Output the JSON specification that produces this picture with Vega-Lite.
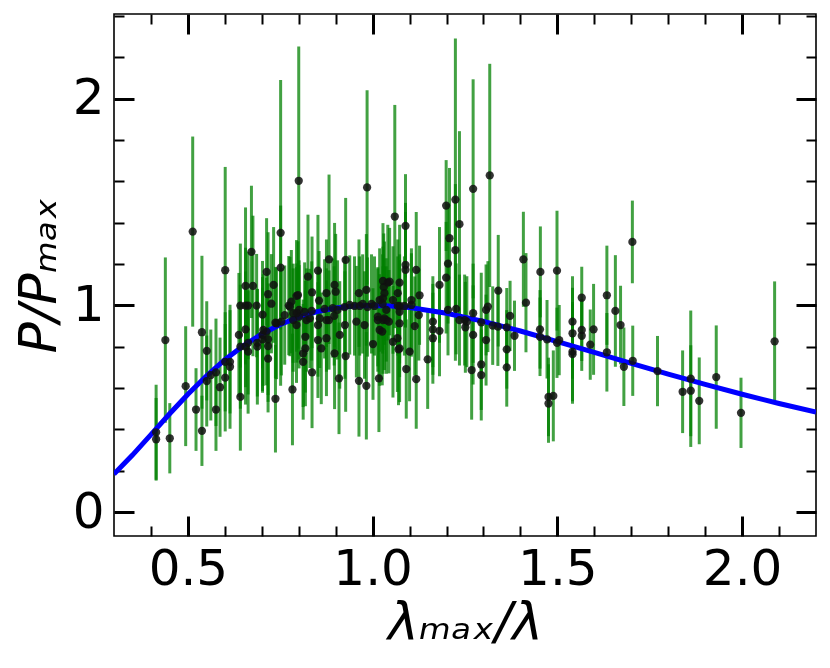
{
  "$schema": "https://vega.github.io/schema/vega-lite/v6.json",
  "width": 702,
  "height": 522,
  "autosize": {"type": "none"},
  "padding": {"left": 114, "top": 14, "right": 14, "bottom": 132},
  "background": "white",
  "config": {"view": {"stroke": "black", "strokeWidth": 1.6}},
  "datasets": {
    "obs": [
{"x":0.414,"y":0.386,"e":0.23},{"x":0.414,"y":0.352,"e":0.2},{"x":0.439,"y":0.832,"e":0.4},{"x":0.451,"y":0.357,"e":0.17},{"x":0.494,"y":0.609,"e":0.29},{"x":0.513,"y":1.357,"e":0.46},{"x":0.522,"y":0.496,"e":0.2},{"x":0.538,"y":0.87,"e":0.37},{"x":0.538,"y":0.393,"e":0.17},{"x":0.551,"y":0.78,"e":0.24},{"x":0.551,"y":0.634,"e":0.22},{"x":0.562,"y":0.663,"e":0.22},{"x":0.576,"y":0.676,"e":0.26},{"x":0.576,"y":0.496,"e":0.2},{"x":0.587,"y":0.604,"e":0.24},{"x":0.601,"y":1.17,"e":0.5},{"x":0.601,"y":0.65,"e":0.26},{"x":0.601,"y":0.727,"e":0.24},{"x":0.614,"y":0.727,"e":0.25},{"x":0.614,"y":0.703,"e":0.3},{"x":0.642,"y":0.557,"e":0.26},{"x":0.638,"y":0.857,"e":0.3},{"x":0.642,"y":0.999,"e":0.3},{"x":0.656,"y":1.094,"e":0.38},{"x":0.676,"y":1.094,"e":0.34},{"x":0.672,"y":1.259,"e":0.32},{"x":0.656,"y":0.999,"e":0.28},{"x":0.663,"y":0.999,"e":0.26},{"x":0.686,"y":0.999,"e":0.25},{"x":0.656,"y":0.884,"e":0.28},{"x":0.642,"y":0.8,"e":0.3},{"x":0.656,"y":0.8,"e":0.28},{"x":0.663,"y":0.819,"e":0.25},{"x":0.663,"y":0.776,"e":0.3},{"x":0.688,"y":0.819,"e":0.26},{"x":0.688,"y":0.8,"e":0.28},{"x":0.702,"y":0.955,"e":0.26},{"x":0.702,"y":0.857,"e":0.28},{"x":0.702,"y":0.836,"e":0.25},{"x":0.713,"y":1.162,"e":0.26},{"x":0.717,"y":1.054,"e":0.3},{"x":0.726,"y":1.008,"e":0.24},{"x":0.732,"y":1.099,"e":0.28},{"x":0.717,"y":0.803,"e":0.27},{"x":0.717,"y":0.742,"e":0.26},{"x":0.737,"y":0.548,"e":0.26},{"x":0.751,"y":1.183,"e":0.3},{"x":0.751,"y":1.351,"e":0.74},{"x":0.737,"y":0.916,"e":0.27},{"x":0.762,"y":0.953,"e":0.24},{"x":0.773,"y":0.999,"e":0.24},{"x":0.78,"y":1.018,"e":0.25},{"x":0.783,"y":0.593,"e":0.27},{"x":0.794,"y":1.046,"e":0.27},{"x":0.798,"y":1.05,"e":0.26},{"x":0.801,"y":0.978,"e":0.24},{"x":0.801,"y":0.945,"e":0.25},{"x":0.785,"y":0.962,"e":0.24},{"x":0.785,"y":0.929,"e":0.25},{"x":0.794,"y":0.905,"e":0.28},{"x":0.818,"y":0.848,"e":0.27},{"x":0.818,"y":0.792,"e":0.28},{"x":0.812,"y":0.768,"e":0.26},{"x":0.812,"y":0.727,"e":0.28},{"x":0.825,"y":1.139,"e":0.3},{"x":0.836,"y":1.063,"e":0.27},{"x":0.836,"y":0.676,"e":0.27},{"x":0.852,"y":1.168,"e":0.27},{"x":0.855,"y":1.023,"e":0.24},{"x":0.852,"y":0.905,"e":0.25},{"x":0.852,"y":0.832,"e":0.28},{"x":0.861,"y":0.792,"e":0.27},{"x":0.875,"y":1.059,"e":0.26},{"x":0.875,"y":0.841,"e":0.28},{"x":0.882,"y":1.223,"e":0.41},{"x":0.882,"y":0.929,"e":0.24},{"x":0.897,"y":1.099,"e":0.3},{"x":0.9,"y":1.066,"e":0.28},{"x":0.897,"y":0.768,"e":0.27},{"x":0.911,"y":0.857,"e":0.26},{"x":0.909,"y":0.647,"e":0.27},{"x":0.927,"y":1.22,"e":0.3},{"x":0.927,"y":0.755,"e":0.27},{"x":0.925,"y":0.905,"e":0.26},{"x":0.963,"y":1.059,"e":0.26},{"x":0.956,"y":0.921,"e":0.27},{"x":0.963,"y":0.635,"e":0.27},{"x":0.978,"y":0.905,"e":0.26},{"x":0.983,"y":1.075,"e":0.27},{"x":0.983,"y":0.611,"e":0.26},{"x":1.001,"y":0.813,"e":0.27},{"x":1.017,"y":0.647,"e":0.26},{"x":1.028,"y":1.118,"e":0.28},{"x":1.041,"y":1.11,"e":0.28},{"x":1.03,"y":1.088,"e":0.26},{"x":1.032,"y":1.059,"e":0.25},{"x":1.028,"y":1.034,"e":0.25},{"x":1.014,"y":0.945,"e":0.24},{"x":1.028,"y":0.929,"e":0.26},{"x":1.019,"y":0.881,"e":0.27},{"x":1.055,"y":1.026,"e":0.26},{"x":1.068,"y":1.059,"e":0.26},{"x":1.055,"y":0.824,"e":0.27},{"x":1.067,"y":0.841,"e":0.26},{"x":1.07,"y":0.787,"e":0.27},{"x":0.8,"y":1.603,"e":0.65},{"x":0.985,"y":1.571,"e":0.47},{"x":1.06,"y":1.43,"e":0.54},{"x":1.089,"y":1.385,"e":0.25},{"x":1.089,"y":1.196,"e":0.3},{"x":1.089,"y":1.172,"e":0.28},{"x":1.118,"y":1.172,"e":0.28},{"x":1.073,"y":1.11,"e":0.28},{"x":1.046,"y":1.115,"e":0.26},{"x":1.127,"y":1.049,"e":0.24},{"x":1.181,"y":1.099,"e":0.28},{"x":1.199,"y":1.483,"e":0.22},{"x":1.224,"y":1.512,"e":0.78},{"x":1.235,"y":1.393,"e":0.45},{"x":1.208,"y":1.325,"e":0.34},{"x":1.224,"y":1.267,"e":0.32},{"x":1.204,"y":1.202,"e":0.29},{"x":1.199,"y":1.134,"e":0.27},{"x":1.272,"y":1.564,"e":0.53},{"x":1.317,"y":1.629,"e":0.54},{"x":1.34,"y":1.071,"e":0.27},{"x":1.408,"y":1.223,"e":0.23},{"x":1.454,"y":1.162,"e":0.22},{"x":1.499,"y":1.168,"e":0.29},{"x":1.566,"y":1.037,"e":0.15},{"x":1.634,"y":1.049,"e":0.24},{"x":1.703,"y":1.307,"e":0.2},{"x":1.415,"y":1.013,"e":0.24},{"x":1.657,"y":0.973,"e":0.27},{"x":1.671,"y":0.905,"e":0.19},{"x":1.541,"y":0.921,"e":0.22},{"x":1.541,"y":0.865,"e":0.22},{"x":1.566,"y":0.881,"e":0.15},{"x":1.566,"y":0.853,"e":0.17},{"x":1.598,"y":0.884,"e":0.22},{"x":1.589,"y":0.81,"e":0.17},{"x":1.634,"y":0.773,"e":0.19},{"x":1.68,"y":0.703,"e":0.19},{"x":1.704,"y":0.732,"e":0.17},{"x":1.771,"y":0.682,"e":0.17},{"x":1.541,"y":0.776,"e":0.24},{"x":1.541,"y":0.764,"e":0.24},{"x":1.453,"y":0.884,"e":0.19},{"x":1.453,"y":0.848,"e":0.19},{"x":1.472,"y":0.836,"e":0.19},{"x":1.499,"y":0.819,"e":0.17},{"x":1.505,"y":0.832,"e":0.17},{"x":1.476,"y":0.557,"e":0.19},{"x":1.476,"y":0.525,"e":0.19},{"x":1.489,"y":0.562,"e":0.22},{"x":1.384,"y":0.853,"e":0.17},{"x":1.372,"y":0.949,"e":0.17},{"x":1.363,"y":0.894,"e":0.19},{"x":1.363,"y":0.787,"e":0.19},{"x":1.363,"y":0.7,"e":0.19},{"x":1.339,"y":0.897,"e":0.19},{"x":1.325,"y":0.902,"e":0.19},{"x":1.307,"y":0.832,"e":0.22},{"x":1.307,"y":0.978,"e":0.22},{"x":1.312,"y":0.994,"e":0.22},{"x":1.294,"y":0.918,"e":0.24},{"x":1.294,"y":0.714,"e":0.22},{"x":1.294,"y":0.663,"e":0.22},{"x":1.268,"y":0.687,"e":0.24},{"x":1.272,"y":0.857,"e":0.24},{"x":1.272,"y":0.962,"e":0.24},{"x":1.251,"y":0.894,"e":0.22},{"x":1.255,"y":0.921,"e":0.22},{"x":1.249,"y":0.929,"e":0.22},{"x":1.235,"y":0.929,"e":0.22},{"x":1.226,"y":0.983,"e":0.22},{"x":1.204,"y":0.978,"e":0.22},{"x":1.181,"y":0.877,"e":0.22},{"x":1.163,"y":0.921,"e":0.22},{"x":1.163,"y":0.884,"e":0.22},{"x":1.163,"y":0.841,"e":0.22},{"x":1.149,"y":0.739,"e":0.24},{"x":1.125,"y":0.953,"e":0.22},{"x":1.114,"y":0.9,"e":0.24},{"x":1.118,"y":0.643,"e":0.24},{"x":1.1,"y":0.776,"e":0.24},{"x":1.091,"y":0.692,"e":0.24},{"x":1.073,"y":0.792,"e":0.26},{"x":1.073,"y":0.913,"e":0.26},{"x":1.073,"y":0.997,"e":0.25},{"x":1.073,"y":0.969,"e":0.25},{"x":1.105,"y":1.026,"e":0.25},{"x":1.105,"y":1.002,"e":0.25},{"x":1.037,"y":0.978,"e":0.25},{"x":1.037,"y":0.929,"e":0.26},{"x":1.839,"y":0.582,"e":0.2},{"x":1.861,"y":0.645,"e":0.33},{"x":1.861,"y":0.587,"e":0.22},{"x":1.884,"y":0.538,"e":0.21},{"x":1.93,"y":0.653,"e":0.25},{"x":1.997,"y":0.48,"e":0.17},{"x":2.088,"y":0.826,"e":0.29},{"x":0.74,"y":0.913,"e":0.27},{"x":0.753,"y":0.921,"e":0.26},{"x":0.857,"y":0.937,"e":0.24},{"x":0.875,"y":0.929,"e":0.25},{"x":0.83,"y":0.937,"e":0.24},{"x":0.821,"y":0.929,"e":0.25},{"x":0.704,"y":0.881,"e":0.27},{"x":0.713,"y":0.873,"e":0.26},{"x":0.717,"y":0.836,"e":0.27},{"x":0.776,"y":0.994,"e":0.24},{"x":0.795,"y":0.963,"e":0.24},{"x":0.816,"y":0.968,"e":0.24},{"x":0.835,"y":0.973,"e":0.24},{"x":0.87,"y":0.983,"e":0.24},{"x":0.892,"y":0.987,"e":0.24},{"x":0.905,"y":0.978,"e":0.24},{"x":1.019,"y":1.026,"e":0.25},{"x":0.896,"y":0.949,"e":0.24},{"x":1.014,"y":0.929,"e":0.25},{"x":1.032,"y":0.937,"e":0.25},{"x":1.044,"y":0.921,"e":0.25},{"x":1.026,"y":0.873,"e":0.26},{"x":0.938,"y":1.002,"e":0.24},{"x":0.951,"y":0.997,"e":0.24},{"x":0.965,"y":0.997,"e":0.24},{"x":0.973,"y":1.007,"e":0.24},{"x":0.997,"y":1.007,"e":0.24},{"x":1.005,"y":0.997,"e":0.24},{"x":1.027,"y":1.007,"e":0.24},{"x":1.068,"y":0.997,"e":0.24},{"x":1.086,"y":0.997,"e":0.24},{"x":0.986,"y":0.992,"e":0.24},{"x":0.924,"y":0.992,"e":0.24}
    ],
    "curve": [
{"x":0.30,"y":0.1834},{"x":0.35,"y":0.2754},{"x":0.40,"y":0.3745},{"x":0.45,"y":0.4742},{"x":0.50,"y":0.5700},{"x":0.55,"y":0.6582},{"x":0.60,"y":0.7369},{"x":0.65,"y":0.8048},{"x":0.70,"y":0.8617},{"x":0.75,"y":0.9077},{"x":0.80,"y":0.9434},{"x":0.85,"y":0.9696},{"x":0.90,"y":0.9871},{"x":0.95,"y":0.9969},{"x":1.00,"y":1.0},{"x":1.05,"y":0.9972},{"x":1.10,"y":0.9894},{"x":1.20,"y":0.9619},{"x":1.30,"y":0.9226},{"x":1.40,"y":0.8760},{"x":1.50,"y":0.8250},{"x":1.60,"y":0.7722},{"x":1.70,"y":0.7193},{"x":1.80,"y":0.6675},{"x":1.90,"y":0.6175},{"x":2.00,"y":0.5700},{"x":2.10,"y":0.5251},{"x":2.20,"y":0.4832}
    ]
  },
  "resolve": {"axis": {"x": "independent", "y": "independent"}},
  "layer": [
    {
      "data": {"name": "obs"},
      "mark": {"type": "errorbar", "rule": {"stroke": "#008000", "strokeWidth": 3, "opacity": 0.74}},
      "encoding": {
        "x": {"field": "x", "type": "quantitative", "scale": {"domain": [0.3, 2.2], "nice": false, "zero": false},
              "axis": {"orient": "bottom", "values": [0.5, 1, 1.5, 2], "labels": false, "domain": false, "grid": false, "tickSize": -20, "tickWidth": 3, "tickColor": "black", "title": null}},
        "y": {"field": "y", "type": "quantitative", "scale": {"domain": [-0.116, 2.41], "nice": false, "zero": false},
              "axis": {"orient": "left", "values": [0, 1, 2], "labels": false, "domain": false, "grid": false, "tickSize": -20, "tickWidth": 3, "tickColor": "black", "title": null}},
        "yError": {"field": "e"}
      }
    },
    {
      "data": {"name": "curve"},
      "mark": {"type": "line", "color": "#0000ff", "strokeWidth": 5, "clip": true},
      "encoding": {
        "x": {"field": "x", "type": "quantitative", "scale": {"domain": [0.3, 2.2], "nice": false, "zero": false},
              "axis": {"orient": "bottom", "values": [0.4, 0.6, 0.7, 0.8, 0.9, 1.1, 1.2, 1.3, 1.4, 1.6, 1.7, 1.8, 1.9, 2.1], "labels": false, "domain": false, "grid": false, "tickSize": -10, "tickWidth": 2, "tickColor": "black", "title": null}},
        "y": {"field": "y", "type": "quantitative", "scale": {"domain": [-0.116, 2.41], "nice": false, "zero": false},
              "axis": {"orient": "left", "values": [0.2, 0.4, 0.6, 0.8, 1.2, 1.4, 1.6, 1.8, 2.2, 2.4], "labels": false, "domain": false, "grid": false, "tickSize": -10, "tickWidth": 2, "tickColor": "black", "title": null}}
      }
    },
    {
      "data": {"name": "curve"},
      "mark": {"type": "line", "opacity": 0},
      "encoding": {
        "x": {"field": "x", "type": "quantitative", "scale": {"domain": [0.3, 2.2], "nice": false, "zero": false},
              "axis": {"orient": "top", "values": [0.5, 1, 1.5, 2], "labels": false, "domain": false, "grid": false, "tickSize": -20, "tickWidth": 3, "tickColor": "black", "title": null}},
        "y": {"field": "y", "type": "quantitative", "scale": {"domain": [-0.116, 2.41], "nice": false, "zero": false},
              "axis": {"orient": "right", "values": [0, 1, 2], "labels": false, "domain": false, "grid": false, "tickSize": -20, "tickWidth": 3, "tickColor": "black", "title": null}}
      }
    },
    {
      "data": {"name": "curve"},
      "mark": {"type": "line", "opacity": 0},
      "encoding": {
        "x": {"field": "x", "type": "quantitative", "scale": {"domain": [0.3, 2.2], "nice": false, "zero": false},
              "axis": {"orient": "top", "values": [0.4, 0.6, 0.7, 0.8, 0.9, 1.1, 1.2, 1.3, 1.4, 1.6, 1.7, 1.8, 1.9, 2.1], "labels": false, "domain": false, "grid": false, "tickSize": -10, "tickWidth": 2, "tickColor": "black", "title": null}},
        "y": {"field": "y", "type": "quantitative", "scale": {"domain": [-0.116, 2.41], "nice": false, "zero": false},
              "axis": {"orient": "right", "values": [0.2, 0.4, 0.6, 0.8, 1.2, 1.4, 1.6, 1.8, 2.2, 2.4], "labels": false, "domain": false, "grid": false, "tickSize": -10, "tickWidth": 2, "tickColor": "black", "title": null}}
      }
    },
    {
      "data": {"name": "obs"},
      "mark": {"type": "point", "filled": true, "color": "#111111", "opacity": 0.85, "size": 68},
      "encoding": {
        "x": {"field": "x", "type": "quantitative", "scale": {"domain": [0.3, 2.2], "nice": false, "zero": false},
              "axis": {"orient": "bottom", "values": [0.5, 1, 1.5, 2], "format": ".1f", "ticks": false, "domain": false, "grid": false, "labelFlush": false,
                       "labelFont": "DejaVu Sans", "labelFontSize": 50, "labelColor": "black", "labelPadding": 8,
                       "title": "λₘₐₓ/λ", "titleFont": "DejaVu Sans", "titleFontSize": 52, "titleFontStyle": "italic", "titleFontWeight": "normal", "titleColor": "black", "titlePadding": 3}},
        "y": {"field": "y", "type": "quantitative", "scale": {"domain": [-0.116, 2.41], "nice": false, "zero": false},
              "axis": {"orient": "left", "values": [0, 1, 2], "format": "d", "ticks": false, "domain": false, "grid": false, "labelFlush": false,
                       "labelFont": "DejaVu Sans", "labelFontSize": 50, "labelColor": "black", "labelPadding": 10,
                       "title": "P/Pₘₐₓ", "titleFont": "DejaVu Sans", "titleFontSize": 52, "titleFontStyle": "italic", "titleFontWeight": "normal", "titleColor": "black", "titlePadding": 6}}
      }
    }
  ]
}
